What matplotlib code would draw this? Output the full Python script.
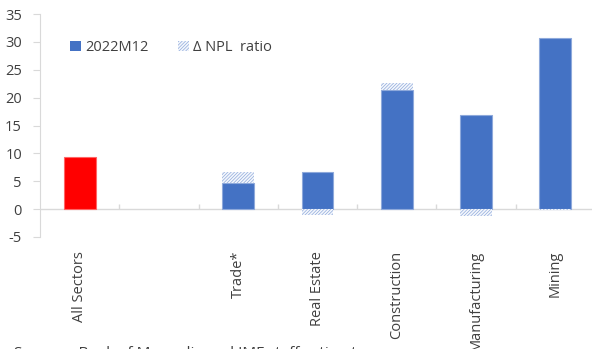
import numpy as np
import matplotlib
matplotlib.use('Agg')
import matplotlib.pyplot as plt
from matplotlib.patches import Patch

plt.rcParams['font.family'] = ['Open Sans', 'DejaVu Sans']
plt.rcParams['hatch.linewidth'] = 0.5

# data
sectors = ['All Sectors', '', 'Trade*', 'Real Estate', 'Construction', 'Manufacturing', 'Mining']
npl_2022m12 = [9.3, np.nan, 4.7, 6.7, 21.4, 16.8, 30.7]
npl_change = [np.nan, np.nan, 2.0, -1.0, 1.2, -1.3, -0.15]
bar_colors = ['#FF0000', '#4472C4', '#4472C4', '#4472C4', '#4472C4', '#4472C4', '#4472C4']
yticks = [-5, 0, 5, 10, 15, 20, 25, 30, 35]

blue = '#4472C4'
hatch_col = '#8FAADC'
grey = '#D9D9D9'
txt = '#404040'

fig = plt.figure(figsize=(5.92, 3.49), dpi=100)
ax = fig.add_axes([40/592, (349-237)/349, 555/592, 223/349])

x = np.arange(len(sectors))
w = 0.4
edge = ['#FF6666' if c == '#FF0000' else '#8EA9DB' for c in bar_colors]
ax.bar(x, npl_2022m12, width=w, color=bar_colors, edgecolor=edge, linewidth=0.8, zorder=3)

# change in NPL ratio: stacked on top if positive, below zero if negative
chg = np.array(npl_change)
base = np.where(chg > 0, np.array(npl_2022m12), 0.0)
ax.bar(x, chg, width=w, bottom=base, color='#F4F7FC', edgecolor=hatch_col,
       hatch='//////////', linewidth=0, zorder=3)

ax.axhline(0, color=grey, linewidth=1, zorder=2)
# category separators on the zero line
ax.vlines(x[:-1] + 0.5, 0, 0.9, color=grey, linewidth=1, zorder=2)

ax.set_xlim(-0.5, len(sectors) - 0.5)
ax.set_ylim(-5, 35)
ax.set_yticks(yticks)
ax.set_yticklabels([str(v) for v in yticks], fontsize=10.5, color=txt)
ax.tick_params(axis='y', length=5, color=grey, pad=8)

ax.set_xticks(x)
ax.set_xticklabels(sectors, rotation=90, fontsize=10.5, color=txt, va='top')
ax.tick_params(axis='x', length=0, pad=10)

for s in ['top', 'right', 'bottom']:
    ax.spines[s].set_visible(False)
ax.spines['left'].set_color(grey)

handles = [Patch(facecolor=blue, edgecolor='none'),
           Patch(facecolor='#F4F7FC', edgecolor=hatch_col, hatch='//////////', linewidth=0)]
ax.legend(handles, ['2022M12', 'Δ NPL  ratio'], loc='center left',
          bbox_to_anchor=(0.03, 0.85), ncol=2, frameon=False, fontsize=10.5,
          handlelength=0.75, handleheight=0.75, handletextpad=0.3,
          columnspacing=2.0, labelcolor=txt)

fig.text(14/592, (349-346)/349, 'Sources: Bank of Mongolia and IMF staff estimates.',
         fontsize=11, color=txt, va='top', ha='left')

fig.savefig('out.png', dpi=100)
